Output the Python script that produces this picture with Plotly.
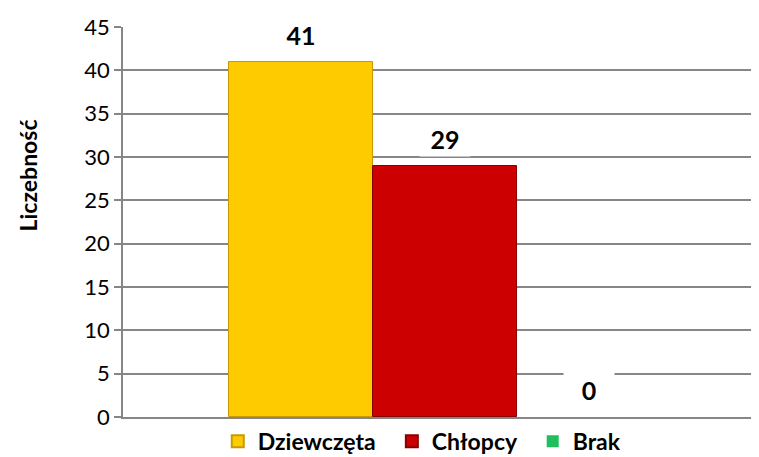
import plotly.graph_objects as go

categories = ["Dziewczęta", "Chłopcy", "Brak"]
values = [41, 29, 0]
colors = ["#FECB00", "#CC0000", "#1FBF5F"]
edge_colors = ["#C99A00", "#8A0000", "#138A40"]
y_ticks = [0, 5, 10, 15, 20, 25, 30, 35, 40, 45]

FONT = "Lato"
PAD = "\u00a0\u00a0"

fig = go.Figure()
for cat, val, col, ec in zip(categories, values, colors, edge_colors):
    fig.add_trace(go.Bar(
        x=[cat], y=[val], name=cat + PAD,
        marker=dict(color=col, line=dict(color=ec, width=1 if val > 0 else 0)),
        hovertemplate=cat + ": %{y}<extra></extra>",
    ))
    fig.add_annotation(
        x=cat, y=val, xref="x", yref="y",
        text=f"<b>{val}</b>", showarrow=False,
        yshift=27, yanchor="middle",
        font=dict(family=FONT, size=25, color="black"),
        bgcolor="white", width=46, borderpad=2,
    )

fig.add_annotation(
    x=-0.149, y=0.62, xref="paper", yref="paper",
    xanchor="center", yanchor="middle",
    text="<b>Liczebność</b>", textangle=-90, showarrow=False,
    font=dict(family=FONT, size=23, color="black"),
)

fig.update_layout(
    width=751, height=449,
    margin=dict(l=115, r=0, t=19, b=40, autoexpand=False),
    plot_bgcolor="white", paper_bgcolor="white",
    barmode="overlay", bargap=0,
    font=dict(family=FONT, color="black"),
    xaxis=dict(
        type="category", categoryorder="array", categoryarray=categories,
        range=[-1.236, 3.18], showticklabels=False, showgrid=False,
        showline=True, linecolor="#868686", linewidth=1.5, ticks="",
        zeroline=False,
    ),
    yaxis=dict(
        range=[0, 45], tickvals=y_ticks, ticktext=[str(t) for t in y_ticks],
        showgrid=True, gridcolor="#868686", gridwidth=1.5,
        showline=True, linecolor="#868686", linewidth=1.5,
        ticks="outside", ticklen=7, tickcolor="#868686", tickwidth=1.5,
        tickfont=dict(family=FONT, size=22, color="black"),
        zeroline=False,
    ),
    legend=dict(
        orientation="h", x=0.149, xanchor="left",
        yref="paper", y=-0.062, yanchor="middle",
        font=dict(family=FONT, size=23, color="black", weight="bold"),
        bgcolor="rgba(0,0,0,0)", itemclick=False,
        tracegroupgap=0, itemsizing="constant",
    ),
    showlegend=True,
)

fig.write_html("out.html")
